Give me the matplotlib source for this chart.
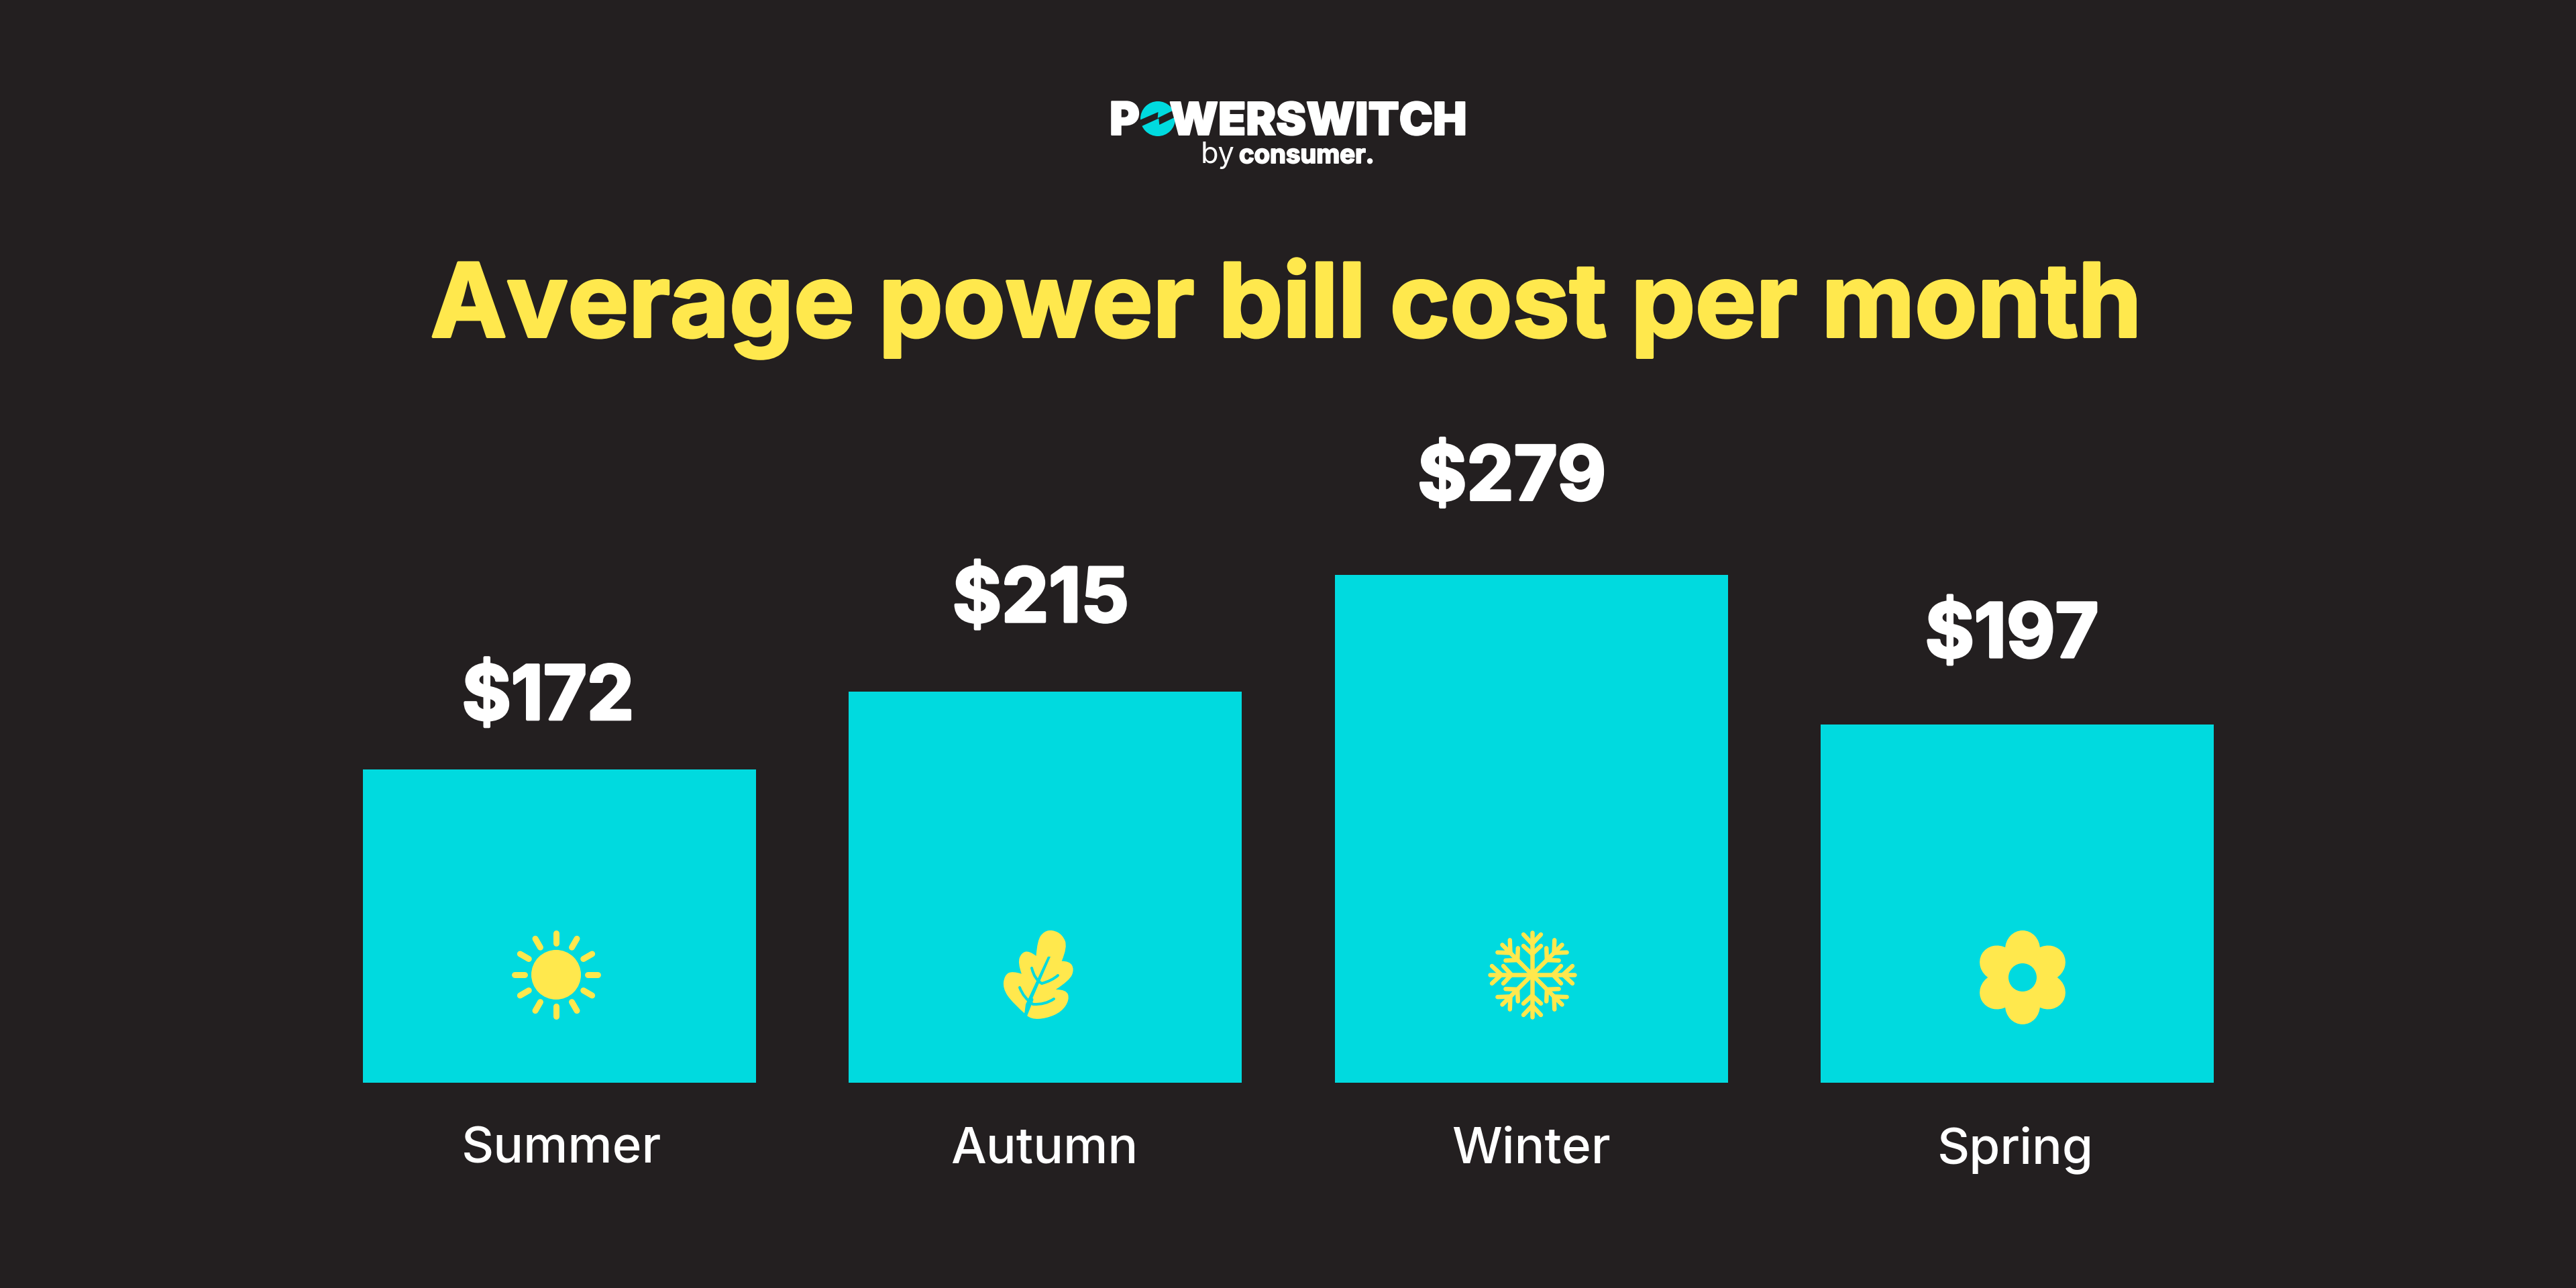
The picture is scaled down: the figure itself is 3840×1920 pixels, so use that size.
import numpy as np
import matplotlib
matplotlib.use("Agg")
import matplotlib.pyplot as plt
import matplotlib.patheffects as pe
from matplotlib.patches import Circle, Ellipse, PathPatch, Polygon
from matplotlib.path import Path
from matplotlib.transforms import Affine2D

seasons = ["Summer", "Autumn", "Winter", "Spring"]
costs = [172, 215, 279, 197]
cost_labels = ["$172", "$215", "$279", "$197"]

# hand placement of the value labels relative to each bar (pixels)
label_dx = [-17, -7, -29, -8]
label_dy = [75, 104, 112, 100]
season_dx = [3, -2, 0, -3]

BG = "#231f20"
TEAL = "#00dadf"
YELLOW = "#ffe84d"
WHITE = "#ffffff"
FONT = "Inter"

W, H = 3840, 1920
PX = 72 / 240  # one pixel in points


def fat(px, color):
    # Inter stops short of the heavy weight in the original, so thicken it
    return [pe.withStroke(linewidth=px * PX, foreground=color)]


fig = plt.figure(figsize=(16, 8), dpi=240, facecolor=BG)

# --- Bars ---------------------------------------------------------------------
BAR_LEFT, BAR_PITCH, BAR_W, BASE_Y = 541, 724.4, 586, 1614
SCALE = 2.713  # pixels per dollar
YMAX = 300
x0 = BAR_LEFT + BAR_W / 2 - BAR_PITCH / 2
ax = fig.add_axes([x0 / W, 1 - BASE_Y / H, 4 * BAR_PITCH / W, YMAX * SCALE / H])
ax.set_xlim(-0.5, 3.5)
ax.set_ylim(0, YMAX)
ax.axis("off")
ax.bar(range(4), costs, width=BAR_W / BAR_PITCH, color=TEAL)

for i, (c, lab) in enumerate(zip(costs, cost_labels)):
    ax.annotate(lab, (i, c), xytext=(label_dx[i] * PX, label_dy[i] * PX),
                textcoords="offset points", ha="center", va="baseline",
                color=WHITE, fontsize=33.5, fontweight="bold", family=FONT,
                path_effects=fat(4, WHITE))
    ax.annotate(seasons[i], (i, 0), xytext=(season_dx[i] * PX, -120 * PX),
                textcoords="offset points", ha="center", va="baseline",
                color=WHITE, fontsize=22.4, fontweight="medium", family=FONT)

# --- Overlay in pixel coordinates for logo, title and icons -------------------
ov = fig.add_axes([0, 0, 1, 1], facecolor="none")
ov.set_xlim(0, W)
ov.set_ylim(H, 0)
ov.axis("off")

ov.text(1917, 502, "Average power bill cost per month", ha="center", va="baseline",
        color=YELLOW, fontsize=45.6, fontweight="bold", family=FONT,
        path_effects=fat(4, YELLOW))

# logo
ov.text(1654, 201, "P", ha="left", va="baseline", color=WHITE, fontsize=20.5,
        fontweight="black", family=FONT, path_effects=fat(2, WHITE))
ov.text(2186, 201, "WERSWITCH", ha="right", va="baseline", color=WHITE, fontsize=20.2,
        fontweight="black", family=FONT, path_effects=fat(2, WHITE))
ov.add_patch(Circle((1726, 177), 26, color=TEAL, lw=0))
bolt = [(1699, 179), (1726.5, 167), (1725.7, 176), (1750, 164),
        (1753, 174), (1728.2, 186), (1727.3, 176.5), (1702, 188)]
ov.add_patch(Polygon(bolt, closed=True, color=BG, lw=0))
ov.text(1790, 243, "by", ha="left", va="baseline", color=WHITE, fontsize=13,
        fontweight="regular", family=FONT)
ov.text(1847, 243, "consumer.", ha="left", va="baseline", color=WHITE, fontsize=11.5,
        fontweight="bold", family=FONT, path_effects=fat(2, WHITE))


def stroke(p, q, lw, color=YELLOW):
    ov.plot([p[0], q[0]], [p[1], q[1]], color=color, lw=lw * PX,
            solid_capstyle="round")


def curve(p, c, q, lw, color=TEAL):
    path = Path([p, c, q], [Path.MOVETO, Path.CURVE3, Path.CURVE3])
    ov.add_patch(PathPatch(path, fc="none", ec=color, lw=lw * PX, capstyle="round"))


# sun
cx, cy = 829, 1453
ov.add_patch(Circle((cx, cy), 37, color=YELLOW, lw=0))
for a in np.radians(np.arange(0, 360, 30)):
    d = np.array([np.cos(a), np.sin(a)])
    stroke((cx, cy) + 47 * d, (cx, cy) + 62 * d, 9)

# leaf, traced lobe by lobe from the zoomed crop (notches stay sharp)
lobes = [
    [(1382, 462), (1345, 405), (1320, 340), (1325, 280), (1345, 262), (1368, 275)],
    [(1368, 275), (1358, 225), (1368, 180), (1388, 172), (1405, 195)],
    [(1405, 195), (1408, 125), (1425, 85), (1447, 78), (1472, 100), (1485, 155), (1470, 218)],
    [(1470, 218), (1490, 218), (1502, 255), (1490, 305), (1455, 345)],
    [(1455, 345), (1482, 345), (1490, 390), (1470, 445), (1430, 475), (1392, 478), (1382, 462)],
]
verts, codes = [], []
for lobe in lobes:
    pts = [np.array([720 + zx / 1.704, 1360 + zy / 3]) for zx, zy in lobe]
    if not verts:
        verts.append(pts[0])
        codes.append(Path.MOVETO)
    for j in range(1, len(pts) - 1):
        end = pts[j + 1] if j == len(pts) - 2 else (pts[j] + pts[j + 1]) / 2
        verts += [pts[j], end]
        codes += [Path.CURVE3, Path.CURVE3]
ov.add_patch(PathPatch(Path(verts, codes), fc=YELLOW, ec="none", lw=0))
ov.add_patch(Polygon([(1526, 1520), (1534, 1500), (1566, 1426), (1562, 1426), (1529, 1497)],
                     closed=True, color=TEAL, lw=0))
stroke((1527, 1518), (1538, 1490), 5, TEAL)
curve((1553, 1466), (1542, 1460), (1538, 1443), 4)
curve((1553, 1466), (1568, 1462), (1577, 1454), 4)
curve((1540, 1497), (1558, 1498), (1571, 1489), 4)
curve((1540, 1497), (1526, 1488), (1520, 1472), 4)

# snowflake
cx, cy = 2284, 1453
for a in np.radians(np.arange(0, 360, 45)):
    rot = Affine2D().rotate(a).translate(cx, cy)
    stroke(rot.transform((0, 0)), rot.transform((63, 0)), 6.5)
    for r, tip in [(46, 60), (31, 43)]:
        for side in (-13, 13):
            stroke(rot.transform((r, 0)), rot.transform((tip, side)), 6.5)

# flower
cx, cy = 3015, 1457
ov.add_patch(Circle((cx, cy), 34, color=YELLOW, lw=0))
for a in np.arange(0, 360, 60):
    d = np.array([np.cos(np.radians(a + 30)), np.sin(np.radians(a + 30))])
    ov.add_patch(Ellipse((cx, cy) + 42 * d, 56, 52, angle=a + 30, color=YELLOW, lw=0))
ov.add_patch(Circle((cx, cy), 21, color=TEAL, lw=0))

fig.savefig("out.png", dpi=240, facecolor=BG)
